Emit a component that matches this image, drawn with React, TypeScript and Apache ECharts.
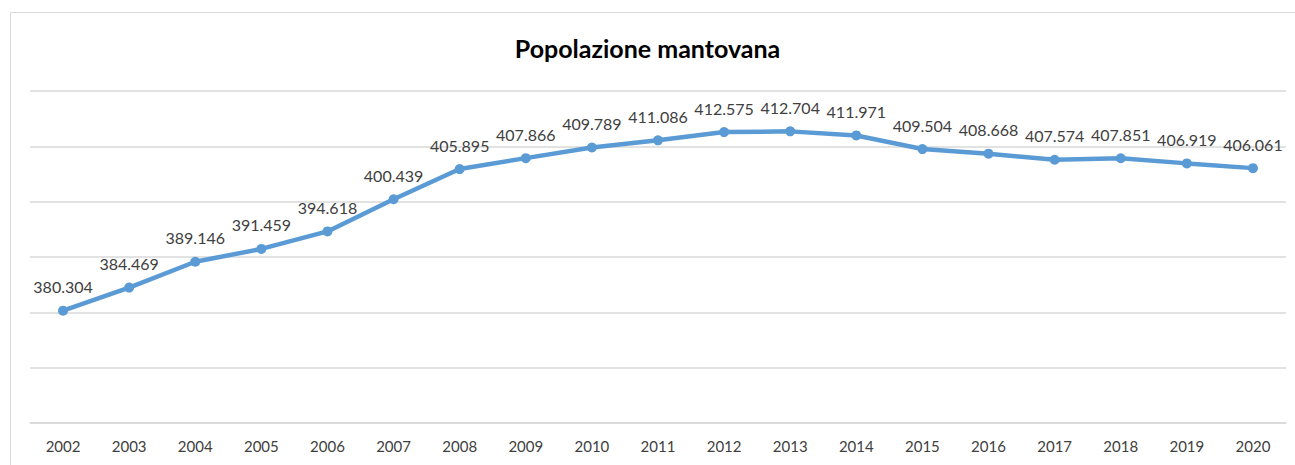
import React, { useEffect, useRef } from "react";
import * as echarts from "echarts";

const years = ["2002","2003","2004","2005","2006","2007","2008","2009","2010","2011","2012","2013","2014","2015","2016","2017","2018","2019","2020"];
const population = [380.304,384.469,389.146,391.459,394.618,400.439,405.895,407.866,409.789,411.086,412.575,412.704,411.971,409.504,408.668,407.574,407.851,406.919,406.061];
const title = "Popolazione mantovana";

export default function App() {
  const ref = useRef<HTMLDivElement>(null);
  useEffect(() => {
    if (!ref.current) return;
    const chart = echarts.init(ref.current, null, { renderer: "svg" });
    chart.setOption({
      animation: false,
      backgroundColor: "#ffffff",
      textStyle: { fontFamily: "Lato" },
      title: {
        text: title,
        left: "center",
        top: 30,
        textStyle: { fontSize: 25, fontWeight: "bold", color: "#000000", fontFamily: "Lato" },
      },
      graphic: [
        {
          type: "rect",
          shape: { x: 10.5, y: 12.5, width: 1300, height: 470 },
          style: { fill: "none", stroke: "#d9d9d9", lineWidth: 1 },
          silent: true,
        },
      ],
      grid: { left: 30, right: 9, top: 91, bottom: 42 },
      xAxis: {
        type: "category",
        data: years,
        boundaryGap: true,
        axisLine: { lineStyle: { color: "#d9d9d9", width: 1.5 } },
        axisTick: { show: false },
        axisLabel: { color: "#404040", fontSize: 15, margin: 15, fontFamily: "Lato" },
      },
      yAxis: {
        type: "value",
        min: 360,
        max: 420,
        interval: 10,
        axisLabel: { show: false },
        axisLine: { show: false },
        axisTick: { show: false },
        splitLine: { lineStyle: { color: "#d9d9d9", width: 1.5 } },
      },
      series: [
        {
          type: "line",
          data: population,
          symbol: "circle",
          symbolSize: 10,
          lineStyle: { color: "#5b9bd5", width: 4.5 },
          itemStyle: { color: "#5b9bd5" },
          label: {
            show: true,
            position: "top",
            distance: 11,
            color: "#404040",
            fontSize: 16,
            fontFamily: "Lato",
            formatter: (p: any) => Number(p.value).toFixed(3),
          },
        },
      ],
    });
    return () => chart.dispose();
  }, []);
  return <div ref={ref} style={{ position: "fixed", left: 0, top: 0, width: 1295, height: 465 }} />;
}
